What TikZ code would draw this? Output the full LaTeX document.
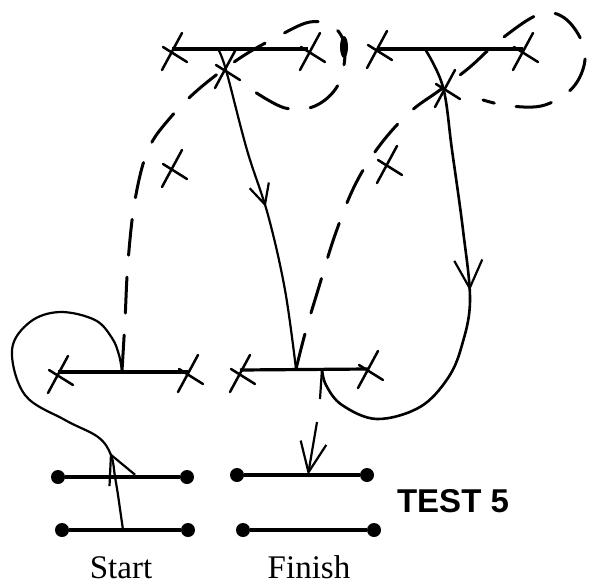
\documentclass[tikz,border=0pt]{standalone}
\usepackage{fontspec}
\setmainfont{Liberation Serif}
\newfontfamily\headfont{Liberation Sans}
\usetikzlibrary{arrows.meta,decorations.markings}

\tikzset{
	bar/.style={line width=3.2pt},
	dashline/.style={line width=3pt, line cap=round, dash pattern=on 36pt off 22pt},
	route/.style={line width=2.2pt},
	cross/.pic={\draw[line width=2.5pt, line cap=round] (10,-17) -- (-10,20) (-9,-3) -- (15,12);},
	pin/.style={circle, fill=black, inner sep=0pt, minimum size=14pt},
	midarrow/.style 2 args={postaction={decorate}, decoration={markings,
		mark=at position #1 with {\arrow{Straight Barb[length=#2, width=#2, line width=2.2pt]}}}},
	label/.style={anchor=base, font=\fontsize{33}{36}\selectfont}
}

\begin{document}
\begin{tikzpicture}[x=1pt,y=-1pt]
			\useasboundingbox (0,0) rectangle (597,584);
			% bars with crossed ends
			\coordinate (tla) at (172,49);  \coordinate (tlb) at (308,49);
			\coordinate (tra) at (377,49);  \coordinate (trb) at (523,49);
			\coordinate (mla) at (58,372);  \coordinate (mlb) at (188,372);
			\coordinate (mra) at (240,370); \coordinate (mrb) at (368,369);
			\foreach \a/\b in {tla/tlb, tra/trb, mla/mlb, mra/mrb}
				\draw[bar] (\a) -- (\b);
			\foreach \p in {(172,50), (310,50), (377,48), (523,50), (225,68), (445,87),
				(172,167), (387,163), (58,373), (188,372), (240,372), (368,368)}
				\pic at \p {cross};
			% start and finish bars
			\node[pin] (s1a) at (58,477) {};  \node[pin] (s1b) at (187,477) {};
			\node[pin] (s2a) at (62,530) {};  \node[pin] (s2b) at (188,530) {};
			\node[pin] (f1a) at (237,475) {}; \node[pin] (f1b) at (367,475) {};
			\node[pin] (f2a) at (243,530) {}; \node[pin] (f2b) at (374,530) {};
			\foreach \a/\b in {s1a/s1b, s2a/s2b, f1a/f1b, f2a/f2b}
				\draw[bar] (\a) -- (\b);
			\node[label] (start) at (121,578) {Start};
			\node[label] (finish) at (309,578) {Finish};
			\node[anchor=base, font=\headfont\bfseries\fontsize{33}{36}\selectfont] (test) at (453,512) {TEST 5};
			% junctions
			\coordinate (tlj) at (218,49);
			\coordinate (trj) at (425,49);
			\coordinate (mlj) at (122,371);
			\coordinate (mrj) at (296,369);
			\coordinate (mrk) at (322,369);
			\coordinate (sj) at (123,530);
			\coordinate (fj) at (308,475);
			\coordinate (fk) at (317,422);
			% dashed moves
			\draw[dashline] plot[smooth, tension=0.6] coordinates {(mlj) (125,320) (128,262) (135,200) (148,150)
				(170,118) (200,88) (240,58) (275,38) (310,22) (335,28) (345,50) (338,85) (315,106) (285,108) (252,90)};
			\draw[dashline] plot[smooth, tension=0.6] coordinates {(mrj) (306,330) (318,290) (335,235) (355,185)
				(380,145) (410,112) (440,90) (470,67) (500,40) (540,14) (567,20) (585,52) (575,85) (545,105) (510,106) (483,100)};
			\fill (344,47) ellipse [x radius=4pt, y radius=11pt];
			% solid moves
			\draw[route, midarrow={0.5}{20pt}] plot[smooth, tension=0.6] coordinates {(tlj) (226,70) (247,150) (268,215) (285,290) (mrj)};
			\draw[route, line width=2.6pt, midarrow={0.49}{28pt}] plot[smooth, tension=0.6] coordinates {(trj) (443,87) (452,150) (463,230)
				(470,300) (462,345) (448,378) (420,407) (377,419) (342,405) (326,385) (mrk)};
			\draw[route] (mrk) -- ++(-2,30);
			\draw[route, midarrow={0.2}{28pt}] plot[smooth, tension=0.6] coordinates {(sj) (118,495) (115,477) (111,455) (98,437)
				(65,420) (25,395) (12,350) (30,322) (60,312) (95,320) (112,338) (119,355) (mlj)};
			\draw[route, -{Straight Barb[length=30pt, width=26pt, line width=2.2pt]}] (fk) -- (fj);
\end{tikzpicture}
\end{document}
